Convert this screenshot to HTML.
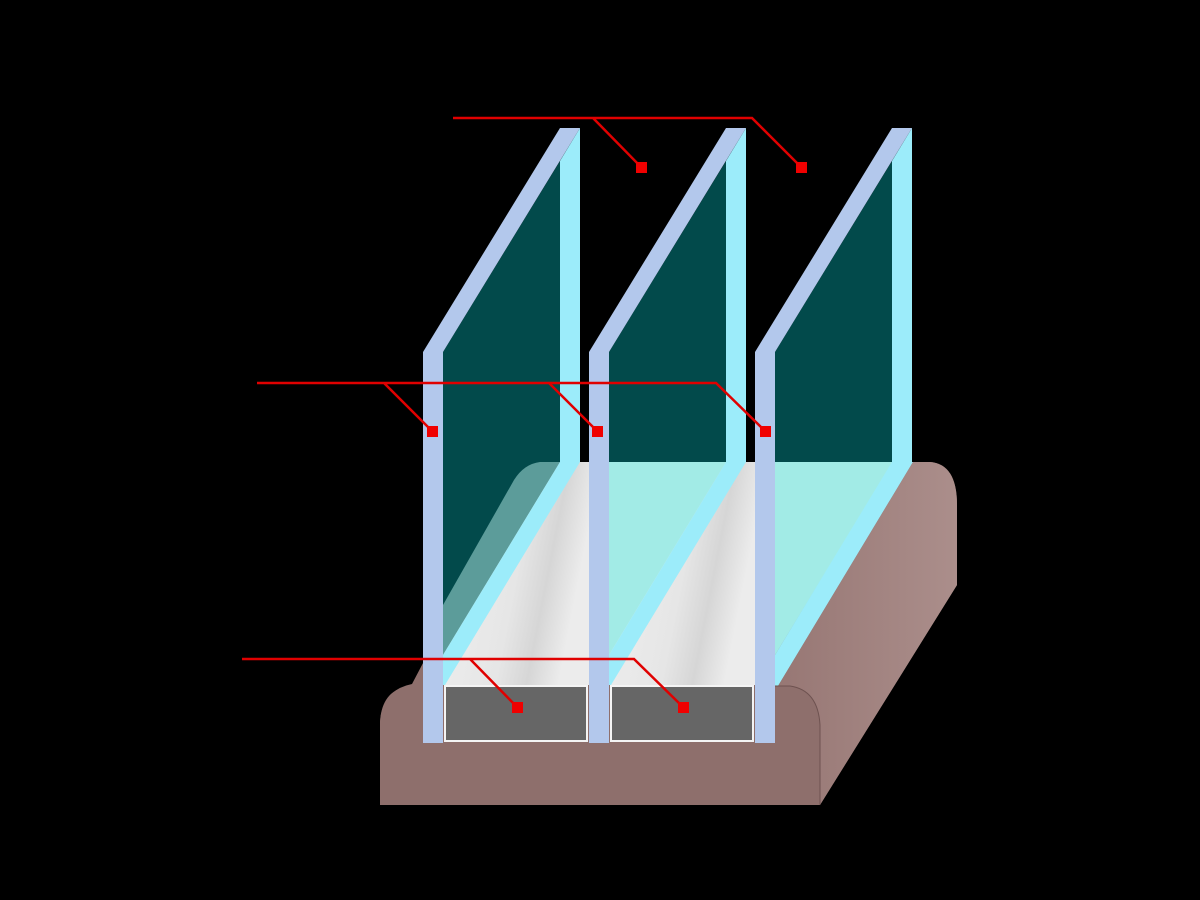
<!DOCTYPE html>
<html><head><meta charset="utf-8"><style>html,body{margin:0;padding:0;background:#000;}svg{display:block}</style></head>
<body>
<svg width="1200" height="900" viewBox="0 0 1200 900" xmlns="http://www.w3.org/2000/svg">
<defs>
<linearGradient id="wg" x1="0" y1="0" x2="1" y2="0.3">
<stop offset="0" stop-color="#f0f0f0"/><stop offset="0.6" stop-color="#e6e6e6"/><stop offset="0.8" stop-color="#d6d6d6"/><stop offset="1" stop-color="#ececec"/>
</linearGradient>
<linearGradient id="side" x1="0" y1="0" x2="1" y2="0">
<stop offset="0" stop-color="#977774"/><stop offset="1" stop-color="#ab8e8b"/>
</linearGradient>
</defs>
<rect width="1200" height="900" fill="#000"/>
<!-- base top (behind) -->
<path d="M380,805 L380,722 Q382,690 412,684 L518,482 Q528,462 552,462 L930,462 Q957,464 957,505 L957,585 L820,805 Z" fill="#8e6f6c"/>
<!-- cavity 0 -->
<polygon points="443,462 589,462 589,685 443,685" fill="url(#wg)"/>
<polygon points="443,462 560,462 443,655" fill="#5c9c9a"/>
<path d="M443,462 L540,462 Q524,464 514,480 L443,605 Z" fill="#024a4b"/>
<polygon points="560,462 580,462 445,685 443,685 443,655" fill="#9cecfa"/>
<!-- cavity 1 -->
<polygon points="609,462 755,462 755,685 609,685" fill="url(#wg)"/>
<polygon points="609,462 726,462 609,655" fill="#a2ebe6"/>
<polygon points="726,462 746,462 611,685 609,685 609,655" fill="#9cecfa"/>
<!-- cavity 2 -->
<polygon points="775,462 893,462 775,655" fill="#a2ebe6"/>
<polygon points="892,462 913,462 778,686 775,686 775,655" fill="#9cecfa"/>
<!-- side face -->
<path d="M778,686 L913,462 L930,462 Q957,464 957,505 L957,585 L820,805 L820,725 Q818,690 790,686 Z" fill="url(#side)"/>
<!-- front face -->
<path d="M380,805 L380,722 Q382,688 412,686 L790,686 Q818,690 820,725 L820,805 Z" fill="#8e6f6c"/>
<path d="M775,686 L790,686 Q818,690 820,725 L820,805" fill="none" stroke="#6e5250" stroke-width="1"/>
<!-- spacers -->
<rect x="445" y="686" width="142" height="55" fill="#666" stroke="#f4f4f4" stroke-width="2"/>
<rect x="611" y="686" width="142" height="55" fill="#666" stroke="#f4f4f4" stroke-width="2"/>
<!-- panes -->
<g id="p0">
<polygon points="443,352 560,161 560,462 443,462" fill="#024a4b"/>
<polygon points="560,161 580,128 580,462 560,462" fill="#9cecfa"/>
<polygon points="423,352 443,352 580,128 560,128" fill="#b3c8ec"/>
<rect x="423" y="352" width="20" height="391" fill="#b3c8ec"/>
</g>
<use href="#p0" x="166"/>
<use href="#p0" x="332"/>
<!-- leader lines -->
<g stroke="#e00000" stroke-width="2.5" fill="none">
<path d="M453,118 L752,118 L801,167 M593,118 L641,167"/>
<path d="M257,383 L716,383 L765,431 M384,383 L432,431 M549,383 L597,431"/>
<path d="M242,659 L634,659 L683,707 M470,659 L517,707"/>
</g>
<g fill="#f00000">
<rect x="636" y="162" width="11" height="11"/>
<rect x="796" y="162" width="11" height="11"/>
<rect x="427" y="426" width="11" height="11"/>
<rect x="592" y="426" width="11" height="11"/>
<rect x="760" y="426" width="11" height="11"/>
<rect x="512" y="702" width="11" height="11"/>
<rect x="678" y="702" width="11" height="11"/>
</g>
</svg>
</body></html>
